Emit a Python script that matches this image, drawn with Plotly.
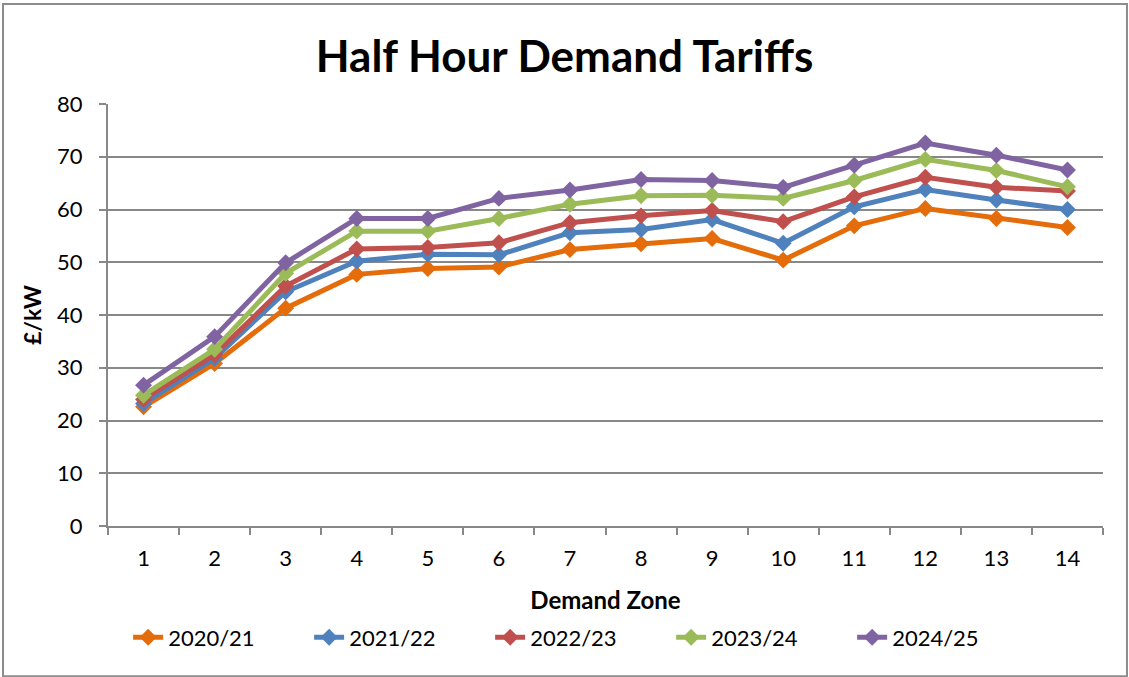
import plotly.graph_objects as go

zones = [str(i) for i in range(1, 15)]
series_names = ["2020/21", "2021/22", "2022/23", "2023/24", "2024/25"]
colors = ["#E46C0A", "#4F81BD", "#C0504D", "#9BBB59", "#8064A2"]

v2020 = [22.6, 30.8, 41.3, 47.7, 48.8, 49.1, 52.4, 53.5, 54.5, 50.4, 56.9, 60.2, 58.3, 56.6]
v2021 = [23.2, 31.8, 44.4, 50.2, 51.5, 51.4, 55.6, 56.2, 58.1, 53.6, 60.5, 63.8, 61.8, 60.0]
v2022 = [24.0, 32.5, 45.5, 52.5, 52.8, 53.7, 57.5, 58.8, 59.8, 57.7, 62.4, 66.1, 64.2, 63.5]
v2023 = [24.8, 33.5, 47.9, 55.9, 55.9, 58.3, 61.0, 62.6, 62.7, 62.1, 65.5, 69.5, 67.4, 64.3]
v2024 = [26.7, 35.9, 49.9, 58.3, 58.3, 62.1, 63.7, 65.7, 65.5, 64.2, 68.4, 72.6, 70.3, 67.5]
all_values = [v2020, v2021, v2022, v2023, v2024]

yticks = [0, 10, 20, 30, 40, 50, 60, 70, 80]

FONT = "Lato"
GRID = "#888888"

fig = go.Figure()
for name, col, vals in zip(series_names, colors, all_values):
    fig.add_trace(go.Scatter(
        x=zones, y=vals, name=name, mode="lines+markers",
        line=dict(color=col, width=5),
        marker=dict(symbol="diamond", size=13, color=col),
    ))

fig.update_layout(
    width=1129, height=677,
    margin=dict(l=108, r=26, t=104, b=151),
    paper_bgcolor="white", plot_bgcolor="white",
    font=dict(family=FONT, color="#000000", size=21),
    title=dict(text="<b>Half Hour Demand Tariffs</b>", x=0.5, xanchor="center",
               y=0.917, yanchor="middle", font=dict(family=FONT, size=44, color="#000000")),
    showlegend=True,
    legend=dict(orientation="h", x=0.475, xanchor="center", y=-0.264, yanchor="middle",
                font=dict(family=FONT, size=22, color="#000000"), entrywidth=136,
                traceorder="normal"),
    xaxis=dict(type="category", range=[-0.5, 13.5], tickson="boundaries", ticks="outside",
               ticklen=7, tickcolor=GRID, tickwidth=2, showline=True, linecolor=GRID,
               linewidth=2, showgrid=False, tickfont=dict(size=22), ticklabelstandoff=12,
               title=dict(text="<b>Demand Zone</b>", font=dict(size=24), standoff=22)),
    yaxis=dict(range=[0, 80], tickvals=yticks, ticks="outside", ticklen=7,
               tickcolor=GRID, tickwidth=2, showline=True, linecolor=GRID, linewidth=2,
               showgrid=True, gridcolor=GRID, gridwidth=2, zeroline=False,
               tickfont=dict(size=22), ticklabelstandoff=12,
               title=dict(text="<b>£/kW</b>", font=dict(size=23), standoff=9)),
)

fig.add_shape(type="rect", xref="paper", yref="paper",
              x0=-0.1055, x1=1.0241, y0=-0.356, y1=1.237,
              line=dict(color="#8C8C8C", width=2), fillcolor="rgba(0,0,0,0)", layer="below")

fig.write_html("out.html", config={"displayModeBar": False},
               post_script="document.body.style.margin='0';")
